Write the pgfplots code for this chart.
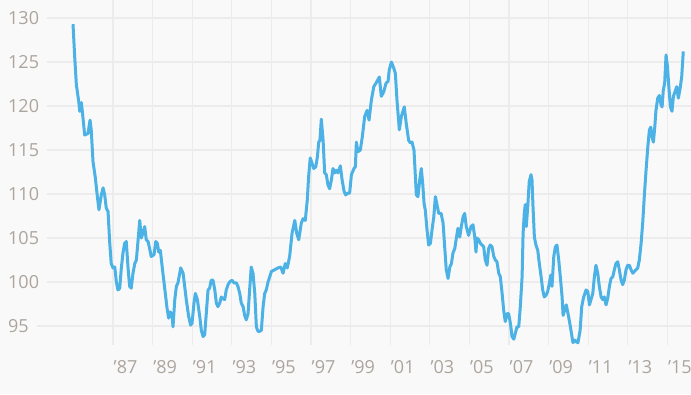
\documentclass[border=0pt]{standalone}
\usepackage{pgfplots}
\pgfplotsset{compat=1.18}
\usepackage{fontspec}
\setmainfont{Open Sans}
\definecolor{bgcol}{RGB}{249,249,249}
\definecolor{gridcol}{RGB}{236,236,236}
\definecolor{labcol}{RGB}{172,165,158}
\definecolor{linecol}{RGB}{76,178,230}
\begin{document}
\begin{tikzpicture}
\fill[bgcol] (0,-49pt) rectangle (691pt,345pt);
\begin{axis}[
  at={(0,0)}, anchor=south west,
  scale only axis, width=691pt, height=345pt,
  xmin=1981.293, xmax=2016.19,
  ymin=92.84, ymax=132.05,
  axis line style={draw=none},
  major tick style={draw=none},
  grid=major,
  major grid style={gridcol, line width=1.1pt},
  xtick={1987,1989,...,2015},
  xticklabels={’87,’89,’91,’93,’95,’97,’99,’01,’03,’05,’07,’09,’11,’13,’15},
  ytick={95,100,...,130},
  yticklabels={95,100,105,110,115,120,125,130},
  /pgf/number format/assume math mode=true,
  ticklabel style={font=\fontsize{18}{20}\selectfont, text=labcol},
  xticklabel style={anchor=north west, inner sep=0pt, yshift=-15pt, xshift=0.5pt},
  yticklabel style={anchor=west, fill=bgcol, inner xsep=8pt, inner ysep=1pt, xshift=0pt},
  clip=false,
]
\addplot[linecol, line width=3pt, line join=round] coordinates {
(1984.98,129.3)(1985.07,125.4)(1985.15,122.4)(1985.27,120.5)(1985.32,119.4)(1985.40,120.4)(1985.45,119.4)
(1985.57,116.7)(1985.74,116.9)(1985.84,118.4)(1985.90,117.3)(1985.99,113.7)(1986.11,111.8)(1986.21,109.7)
(1986.29,108.2)(1986.41,109.9)(1986.50,110.7)(1986.58,109.9)(1986.66,108.4)(1986.75,108.0)(1986.83,104.6)
(1986.91,102.1)(1987.00,101.6)(1987.09,101.7)(1987.17,100.0)(1987.25,99.1)(1987.34,99.3)(1987.42,101.6)
(1987.51,103.4)(1987.59,104.4)(1987.67,104.6)(1987.76,101.6)(1987.84,99.5)(1987.92,99.3)(1988.01,101.0)
(1988.10,102.1)(1988.18,102.5)(1988.26,104.6)(1988.35,107.0)(1988.43,105.0)(1988.53,105.7)(1988.60,106.3)
(1988.68,104.8)(1988.77,104.6)(1988.85,103.8)(1988.93,102.9)(1989.07,103.1)(1989.16,104.6)(1989.24,104.4)
(1989.31,103.4)(1989.39,103.6)(1989.49,101.6)(1989.61,99.3)(1989.73,97.0)(1989.81,95.9)(1989.89,96.6)
(1989.98,96.2)(1990.03,94.9)(1990.12,98.0)(1990.20,99.5)(1990.28,99.9)(1990.42,101.6)(1990.54,101.0)
(1990.62,99.5)(1990.70,98.0)(1990.82,96.1)(1990.92,95.1)(1990.99,95.3)(1991.09,97.6)(1991.16,98.7)
(1991.26,98.0)(1991.38,96.1)(1991.46,94.5)(1991.55,93.8)(1991.63,94.0)(1991.71,96.4)(1991.80,99.1)
(1991.88,99.3)(1991.96,100.2)(1992.05,100.2)(1992.14,99.1)(1992.22,97.6)(1992.30,97.2)(1992.39,97.6)
(1992.47,98.3)(1992.56,98.1)(1992.64,98.0)(1992.72,99.1)(1992.81,99.7)(1992.89,100.0)(1993.01,100.2)
(1993.11,99.9)(1993.23,99.9)(1993.31,99.5)(1993.40,98.7)(1993.48,97.6)(1993.57,97.2)(1993.65,96.2)
(1993.73,95.7)(1993.82,96.4)(1993.90,99.1)(1993.98,101.7)(1994.07,101.0)(1994.16,98.7)(1994.24,94.9)
(1994.32,94.4)(1994.41,94.4)(1994.49,94.5)(1994.58,97.2)(1994.66,98.7)(1994.74,99.1)(1994.83,100.0)
(1995.00,101.2)(1995.17,101.4)(1995.33,101.6)(1995.47,101.7)(1995.59,101.0)(1995.70,102.1)(1995.80,101.6)
(1995.92,102.9)(1996.04,105.5)(1996.18,107.0)(1996.28,105.5)(1996.38,104.8)(1996.51,106.7)(1996.60,107.2)
(1996.71,107.0)(1996.81,109.3)(1996.88,112.0)(1996.96,114.1)(1997.05,113.5)(1997.14,112.9)(1997.24,113.1)
(1997.32,114.2)(1997.39,115.9)(1997.45,116.1)(1997.52,118.5)(1997.61,116.1)(1997.69,112.4)(1997.77,112.2)
(1997.86,111.0)(1997.94,110.6)(1998.03,111.6)(1998.11,112.9)(1998.20,112.4)(1998.28,112.7)(1998.36,112.4)
(1998.48,113.2)(1998.57,111.6)(1998.67,110.3)(1998.75,109.9)(1998.87,110.1)(1998.95,110.1)(1999.04,112.2)
(1999.17,112.9)(1999.24,113.1)(1999.29,115.9)(1999.37,114.8)(1999.49,115.0)(1999.59,116.5)(1999.71,118.8)
(1999.83,119.5)(1999.93,118.4)(2000.05,120.7)(2000.17,122.2)(2000.28,122.6)(2000.38,123.0)(2000.45,123.3)
(2000.55,121.1)(2000.67,121.6)(2000.79,122.6)(2000.89,122.8)(2000.95,124.1)(2001.06,125.0)(2001.18,124.3)
(2001.26,123.7)(2001.34,120.7)(2001.46,117.3)(2001.56,118.8)(2001.71,119.9)(2001.81,118.0)(2001.93,116.1)
(2002.02,115.8)(2002.10,115.9)(2002.20,115.0)(2002.27,112.0)(2002.32,109.9)(2002.40,109.7)(2002.49,111.6)
(2002.57,112.9)(2002.64,111.2)(2002.71,108.9)(2002.77,108.2)(2002.86,105.9)(2002.94,104.2)(2003.03,104.4)
(2003.11,105.9)(2003.20,107.4)(2003.28,109.7)(2003.36,108.8)(2003.45,107.8)(2003.57,107.8)(2003.67,106.7)
(2003.75,104.0)(2003.83,101.4)(2003.92,100.4)(2004.01,101.7)(2004.09,102.1)(2004.17,103.3)(2004.26,103.8)
(2004.34,105.0)(2004.42,106.1)(2004.51,105.1)(2004.59,106.3)(2004.68,107.4)(2004.76,107.8)(2004.84,106.3)
(2004.96,105.3)(2005.08,106.3)(2005.18,106.5)(2005.27,105.1)(2005.33,103.4)(2005.38,105.0)(2005.47,104.8)
(2005.55,104.4)(2005.64,104.2)(2005.72,104.0)(2005.80,102.5)(2005.89,101.9)(2005.97,103.8)(2006.05,104.2)
(2006.14,104.0)(2006.23,102.9)(2006.31,102.5)(2006.39,102.3)(2006.48,101.0)(2006.56,100.6)(2006.65,98.7)
(2006.73,96.8)(2006.81,95.5)(2006.90,96.4)(2006.98,96.4)(2007.07,95.3)(2007.15,93.8)(2007.24,93.5)
(2007.32,94.2)(2007.40,94.9)(2007.49,94.9)(2007.57,97.2)(2007.66,100.6)(2007.71,105.5)(2007.77,107.8)
(2007.82,108.8)(2007.87,106.3)(2007.94,108.4)(2008.02,111.4)(2008.11,112.2)(2008.16,111.6)(2008.21,108.6)
(2008.28,105.1)(2008.36,104.2)(2008.45,103.6)(2008.53,102.1)(2008.62,100.6)(2008.70,99.1)(2008.78,98.3)
(2008.87,98.5)(2008.95,98.9)(2009.04,99.9)(2009.11,100.8)(2009.17,99.5)(2009.26,102.9)(2009.34,104.0)
(2009.42,104.2)(2009.51,102.5)(2009.59,100.6)(2009.68,98.3)(2009.73,96.2)(2009.81,96.8)(2009.89,97.4)
(2009.98,96.4)(2010.07,95.3)(2010.15,94.2)(2010.23,93.1)(2010.32,93.4)(2010.40,93.2)(2010.48,93.1)
(2010.59,94.5)(2010.67,97.2)(2010.77,98.3)(2010.89,99.1)(2010.98,98.9)(2011.06,97.4)(2011.14,98.0)
(2011.23,98.7)(2011.31,100.6)(2011.39,101.9)(2011.48,101.0)(2011.56,99.5)(2011.65,98.3)(2011.73,98.0)
(2011.81,98.3)(2011.90,97.4)(2011.98,98.1)(2012.07,99.5)(2012.15,100.4)(2012.24,100.6)(2012.32,101.4)
(2012.40,102.1)(2012.49,102.3)(2012.57,101.4)(2012.66,100.2)(2012.74,99.7)(2012.82,100.2)(2012.91,101.4)
(2012.99,101.9)(2013.08,101.9)(2013.16,101.4)(2013.25,101.0)(2013.33,101.2)(2013.41,101.4)(2013.50,101.6)
(2013.58,102.5)(2013.67,104.4)(2013.75,106.7)(2013.83,109.7)(2013.92,112.7)(2014.01,115.4)(2014.09,117.3)
(2014.16,117.6)(2014.22,116.5)(2014.29,115.9)(2014.36,117.6)(2014.42,119.5)(2014.51,120.9)(2014.59,121.2)
(2014.68,120.1)(2014.73,119.9)(2014.79,121.8)(2014.86,122.6)(2014.93,125.8)(2015.00,124.5)(2015.07,122.2)
(2015.15,119.9)(2015.23,119.4)(2015.30,121.1)(2015.38,121.6)(2015.47,122.2)(2015.55,120.9)(2015.64,122.0)
(2015.72,123.3)(2015.80,126.2)
};
\end{axis}
\pgfresetboundingbox
\useasboundingbox (0,-49pt) rectangle (691pt,345pt);
\end{tikzpicture}
\end{document}
